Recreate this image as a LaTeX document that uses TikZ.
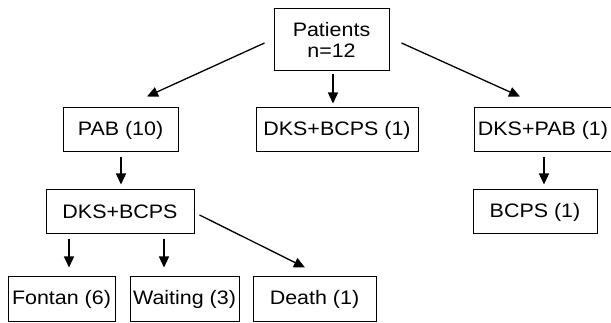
\documentclass[tikz,border=0pt]{standalone}
\usepackage{fontspec}
\setmainfont{Liberation Sans}[FakeStretch=1.1]
\usetikzlibrary{arrows.meta,calc}
\begin{document}
\begin{tikzpicture}[x=1pt,y=-1pt,
  box/.style={draw=black,line width=1pt,inner sep=0pt,minimum height=44pt,align=center,
    font=\fontsize{19.5}{21}\selectfont},
  arr/.style={draw=black,line width=1.3pt,-{Triangle[length=11pt,width=10pt]}}]
\useasboundingbox (0,0) rectangle (611,323);
\clip (0,0) rectangle (611,323);
\node[box,minimum width=115pt,minimum height=62pt] (P) at (331.5,40) {Patients\\n=12};
\node[box,minimum width=115pt] (PAB) at (120.5,130) {PAB (10)};
\node[box,minimum width=162pt] (DB1) at (337,130) {DKS+BCPS (1)};
\node[box,minimum width=138pt] (DP) at (543,130) {DKS+PAB (1)};
\node[box,minimum width=124pt] (BC) at (535,212) {BCPS (1)};
\node[box,minimum width=148pt] (DB) at (120,212) {DKS+BCPS};
\node[box,minimum width=107pt,minimum height=45pt] (F) at (61.5,299.5) {Fontan (6)};
\node[box,minimum width=109pt,minimum height=45pt] (W) at (184.5,299.5) {Waiting (3)};
\node[box,minimum width=123pt,minimum height=45pt] (D) at (314.5,299.5) {Death (1)};
% connector ends
\coordinate (p1) at ([shift={(-9,3)}]P.west);
\coordinate (p2) at ([shift={(26.5,-11)}]PAB.north);
\coordinate (p3) at ($(P.south)+(1.5,3)$);
\coordinate (p4) at ($(DB1.north)+(-4,-4)$);
\coordinate (p5) at ([shift={(12,3)}]P.east);
\coordinate (p6) at ([shift={(-23,-11)}]DP.north);
\draw[arr] (p1) -- (p2);
\draw[arr] (p3) -- (p4);
\draw[arr] (p5) -- (p6);
\draw[arr] ($(PAB.south)+(0.5,5)$) -- ($(DB.north)+(1,-5)$);
\draw[arr] ($(DP.south)+(1,5)$) -- ($(BC.north)+(9,-5)$);
\draw[arr] ($(DB.south-|F.north)+(7.5,5)$) -- ($(F.north)+(7.5,-9)$);
\draw[arr] ($(DB.south-|W.north)+(-20.5,5)$) -- ($(W.north)+(-20.5,-9)$);
\draw[arr] ([shift={(5,3)}]DB.east) -- ([shift={(-9.5,-9)}]D.north);
\end{tikzpicture}
\end{document}
